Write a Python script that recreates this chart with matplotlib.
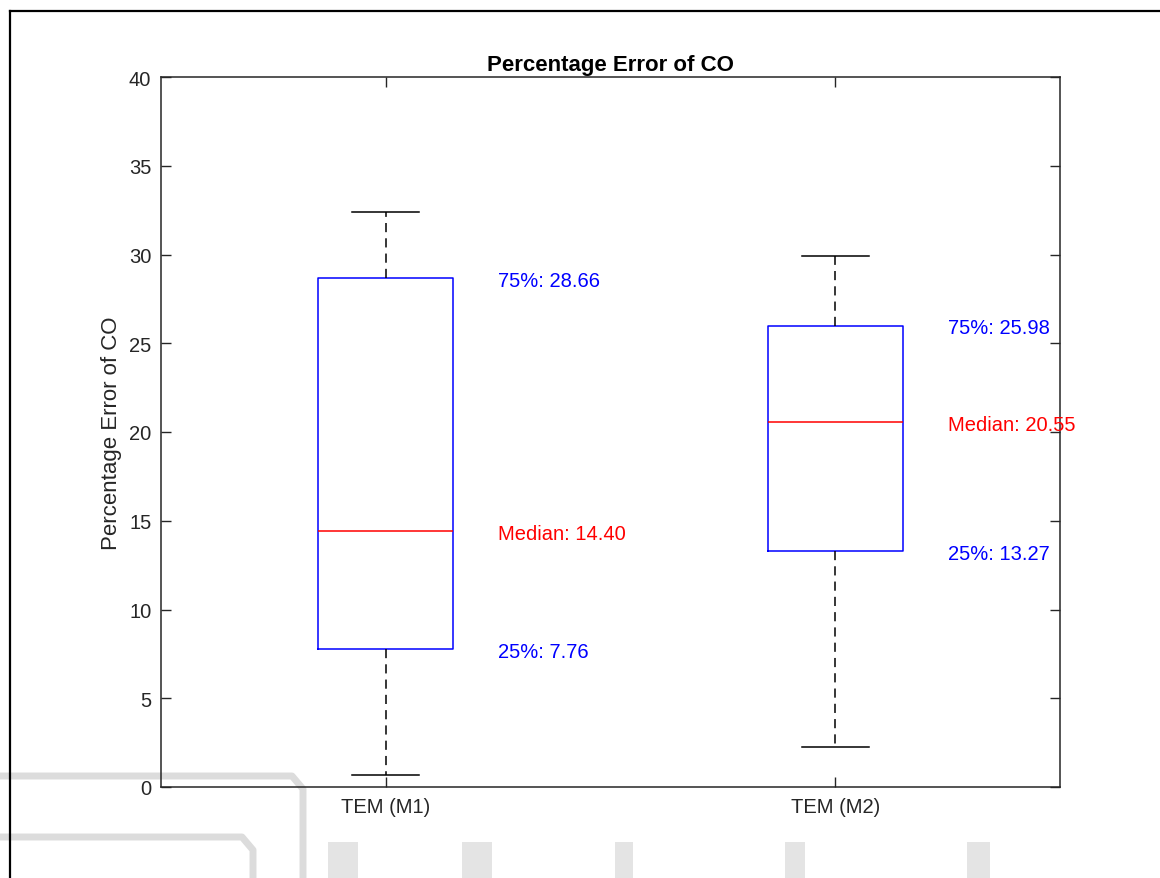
import matplotlib
matplotlib.use("Agg")
import matplotlib.pyplot as plt
from matplotlib.lines import Line2D
from matplotlib.patches import Rectangle

# ---------------- Data ----------------
categories = ["TEM (M1)", "TEM (M2)"]
whisker_low = [0.68, 2.25]
q1 = [7.76, 13.27]
median = [14.40, 20.55]
q3 = [28.66, 25.98]
whisker_high = [32.39, 29.92]

plt.rcParams['font.family'] = ['Liberation Sans', 'DejaVu Sans']
TXT = "#262626"

fig = plt.figure(figsize=(11.6, 8.79), dpi=100)
W, H = 1160, 879

def px(x, y):
    # pixel (top-left origin) -> figure fraction
    return x / W, 1 - y / H

# faint grey background shapes (watermark in the reference)
wm = "#dcdcdc"
fig.add_artist(Line2D([0, 292 / W, 303 / W, 303 / W],
                      [1 - 777 / H, 1 - 777 / H, 1 - 790 / H, 0], color=wm, lw=5, zorder=0))
fig.add_artist(Line2D([0, 242 / W, 253 / W, 253 / W],
                      [1 - 838 / H, 1 - 838 / H, 1 - 851 / H, 0], color=wm, lw=5, zorder=0))
for x0, x1 in [(328, 358), (462, 492), (615, 633), (785, 805), (967, 990)]:
    fig.add_artist(Rectangle(px(x0, 879), (x1 - x0) / W, 36 / H,
                             facecolor="#e4e4e4", edgecolor="none", zorder=0))

# outer frame lines
fig.add_artist(Line2D([9.5 / W, 9.5 / W], [0, 1 - 12 / H], color="black", lw=1.6))
fig.add_artist(Line2D([9.5 / W, 1], [1 - 12 / H] * 2, color="black", lw=1.6))

ax = fig.add_axes([161 / W, 1 - 788 / H, (1060 - 161) / W, (788 - 78) / H])
ax.patch.set_alpha(0)

stats = []
for i in range(len(categories)):
    stats.append(dict(label=categories[i], whislo=whisker_low[i], q1=q1[i],
                      med=median[i], q3=q3[i], whishi=whisker_high[i], fliers=[]))

positions = list(range(1, len(categories) + 1))
ax.bxp(stats, positions=positions, widths=0.3, showfliers=False,
       boxprops=dict(color="blue", lw=1.1),
       medianprops=dict(color="red", lw=1.1),
       whiskerprops=dict(color="black", lw=1.1, linestyle=(0, (6, 4))),
       capprops=dict(color="black", lw=1.1), capwidths=0.15)

for i, p in enumerate(positions):
    ax.text(p + 0.25, q3[i], f"75%: {q3[i]:.2f}", color="blue", fontsize=14.5,
            ha="left", va="center_baseline")
    ax.text(p + 0.25, median[i], f"Median: {median[i]:.2f}", color="red", fontsize=14.5,
            ha="left", va="center_baseline")
    ax.text(p + 0.25, q1[i], f"25%: {q1[i]:.2f}", color="blue", fontsize=14.5,
            ha="left", va="center_baseline")

ax.set_xlim(0.5, 2.5)
ax.set_ylim(0, 40)
ax.set_yticks(range(0, 41, 5))
ax.set_xticks(positions)
ax.set_xticklabels(categories)

ax.tick_params(direction="in", length=7, width=1.0, color=TXT, labelcolor=TXT,
               labelsize=14.5, top=True, right=True, pad=7)
for s in ax.spines.values():
    s.set_color(TXT)
    s.set_linewidth(1.1)

ax.set_title("Percentage Error of CO", fontsize=16, fontweight="bold", pad=5)
ax.set_ylabel("Percentage Error of CO", fontsize=16, color=TXT, labelpad=5)

fig.savefig("out.png", dpi=100, facecolor="white")
